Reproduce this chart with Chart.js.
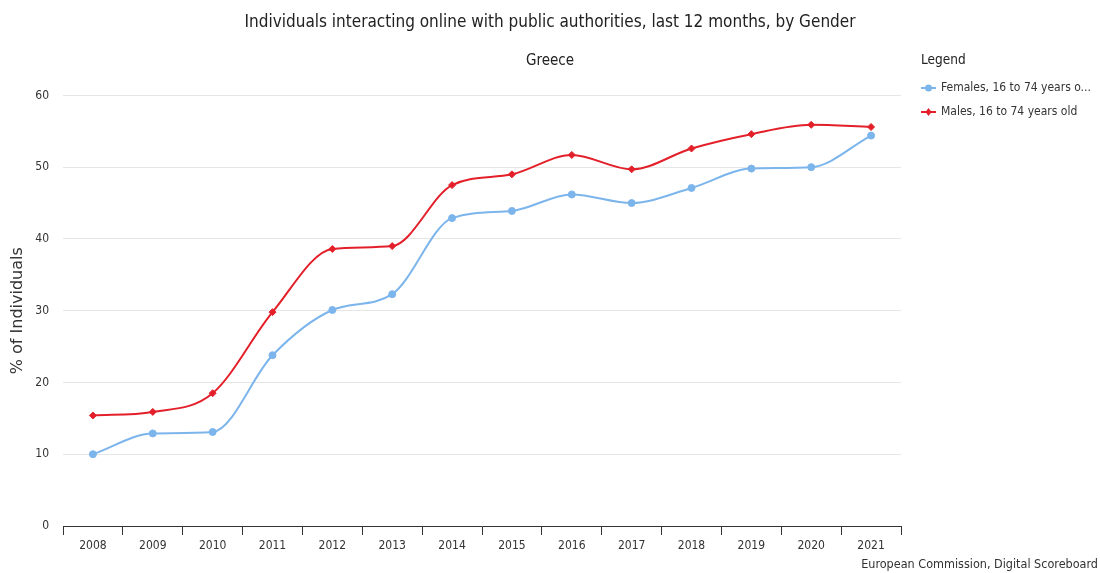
<!DOCTYPE html>
<html>
<head>
<meta charset="utf-8">
<script src="https://cdn.jsdelivr.net/npm/chart.js@4/dist/chart.umd.min.js"></script>
<style>
    html, body { margin: 0; padding: 0; background: #fff; }
    #wrap { width: 1100px; height: 573px; position: relative; }
</style>
</head>
<body>
<div id="wrap"><canvas id="chartCanvas"></canvas></div>
<script>
const years = ['2008', '2009', '2010', '2011', '2012', '2013', '2014', '2015', '2016', '2017', '2018', '2019', '2020', '2021'];
const females = [10.0, 12.9, 13.1, 23.8, 30.1, 32.3, 42.9, 43.9, 46.2, 45.0, 47.1, 49.8, 50.0, 54.4];
const males = [15.4, 15.9, 18.5, 29.8, 38.6, 39.0, 47.5, 49.0, 51.7, 49.7, 52.6, 54.6, 55.9, 55.6];
const seriesNames = ['Females, 16 to 74 years old', 'Males, 16 to 74 years old'];
const legendNames = ['Females, 16 to 74 years o...', 'Males, 16 to 74 years old'];
const yTicks = [0, 10, 20, 30, 40, 50, 60];

const narrow = "'DejaVu Sans Condensed', 'Liberation Sans Narrow', sans-serif";
const blue = '#7cb5ec';
const red = '#e3202a';

// side legend + source note, drawn after the chart
const extras = {
    id: 'extras',
    afterDraw(chart) {
        const ctx = chart.ctx;
        ctx.save();
        ctx.fillStyle = '#222';
        ctx.textBaseline = 'middle';
        ctx.textAlign = 'left';
        ctx.font = '13.5px ' + narrow;
        ctx.fillText('Legend', 921, 60);

        ctx.fillStyle = '#333';
        ctx.font = '12px ' + narrow;
        chart.data.datasets.forEach((ds, i) => {
            const y = 88 + i * 24;
            ctx.strokeStyle = ds.borderColor;
            ctx.lineWidth = 2;
            ctx.beginPath();
            ctx.moveTo(921, y);
            ctx.lineTo(936, y);
            ctx.stroke();
            ctx.fillStyle = ds.borderColor;
            ctx.beginPath();
            if (i === 0) {
                ctx.arc(928.5, y, 3.5, 0, Math.PI * 2);
            } else {
                ctx.moveTo(928.5, y - 4);
                ctx.lineTo(931.5, y);
                ctx.lineTo(928.5, y + 4);
                ctx.lineTo(925.5, y);
                ctx.closePath();
            }
            ctx.fill();
            ctx.fillStyle = '#333';
            ctx.fillText(legendNames[i], 941, y);
        });

        ctx.textAlign = 'right';
        ctx.font = '12.5px ' + narrow;
        ctx.fillText('European Commission, Digital Scoreboard', 1098, 565);
        ctx.restore();
    }
};

const chart = new Chart(document.getElementById('chartCanvas'), {
    type: 'line',
    data: {
        labels: years,
        datasets: [{
            label: seriesNames[0],
            data: females,
            borderColor: blue,
            backgroundColor: blue,
            borderWidth: 2,
            pointStyle: 'circle',
            pointRadius: 3.5,
            pointBorderWidth: 1,
            pointHoverRadius: 5,
            cubicInterpolationMode: 'monotone'
        }, {
            label: seriesNames[1],
            data: males,
            borderColor: red,
            backgroundColor: red,
            borderWidth: 2,
            pointStyle: 'rectRot',
            pointRadius: 3.5,
            pointBorderWidth: 1,
            pointHoverRadius: 4.5,
            cubicInterpolationMode: 'monotone'
        }]
    },
    options: {
        responsive: true,
        maintainAspectRatio: false,
        animation: false,
        layout: { padding: 0 },
        plugins: {
            legend: { display: false },
            tooltip: { enabled: false },
            title: {
                display: true,
                text: 'Individuals interacting online with public authorities, last 12 months, by Gender',
                color: '#222',
                font: { family: narrow, size: 17, weight: 'normal' },
                padding: { top: 12, bottom: 12 }
            },
            subtitle: {
                display: true,
                text: 'Greece',
                color: '#222',
                font: { family: narrow, size: 15, weight: 'normal' },
                padding: { top: 8, bottom: 25 }
            }
        },
        scales: {
            x: {
                offset: true,
                grid: {
                    offset: true,
                    drawOnChartArea: false,
                    drawTicks: true,
                    tickLength: 9,
                    color: '#333'
                },
                border: { display: true, color: '#333', width: 1 },
                ticks: {
                    color: '#333',
                    padding: 4,
                    maxRotation: 0,
                    font: { family: narrow, size: 12 }
                },
                afterFit(scale) { scale.height = 47; }
            },
            y: {
                min: 0,
                max: 60,
                afterBuildTicks(scale) { scale.ticks = yTicks.map(v => ({ value: v })); },
                grid: { color: '#e6e6e6', drawTicks: false },
                border: { display: false },
                ticks: {
                    color: '#333',
                    padding: 14,
                    font: { family: narrow, size: 12 }
                },
                title: {
                    display: true,
                    text: '% of Individuals',
                    color: '#333',
                    font: { family: "'DejaVu Sans', sans-serif", size: 16 },
                    padding: { top: 8, bottom: 0 }
                },
                afterFit(scale) { scale.width = 63; }
            },
            // empty right-hand axis that reserves the legend column
            side: {
                position: 'right',
                display: true,
                grid: { display: false },
                border: { display: false },
                ticks: { display: false },
                afterFit(scale) { scale.width = 199; }
            }
        }
    },
    plugins: [extras]
});
</script>
</body>
</html>
